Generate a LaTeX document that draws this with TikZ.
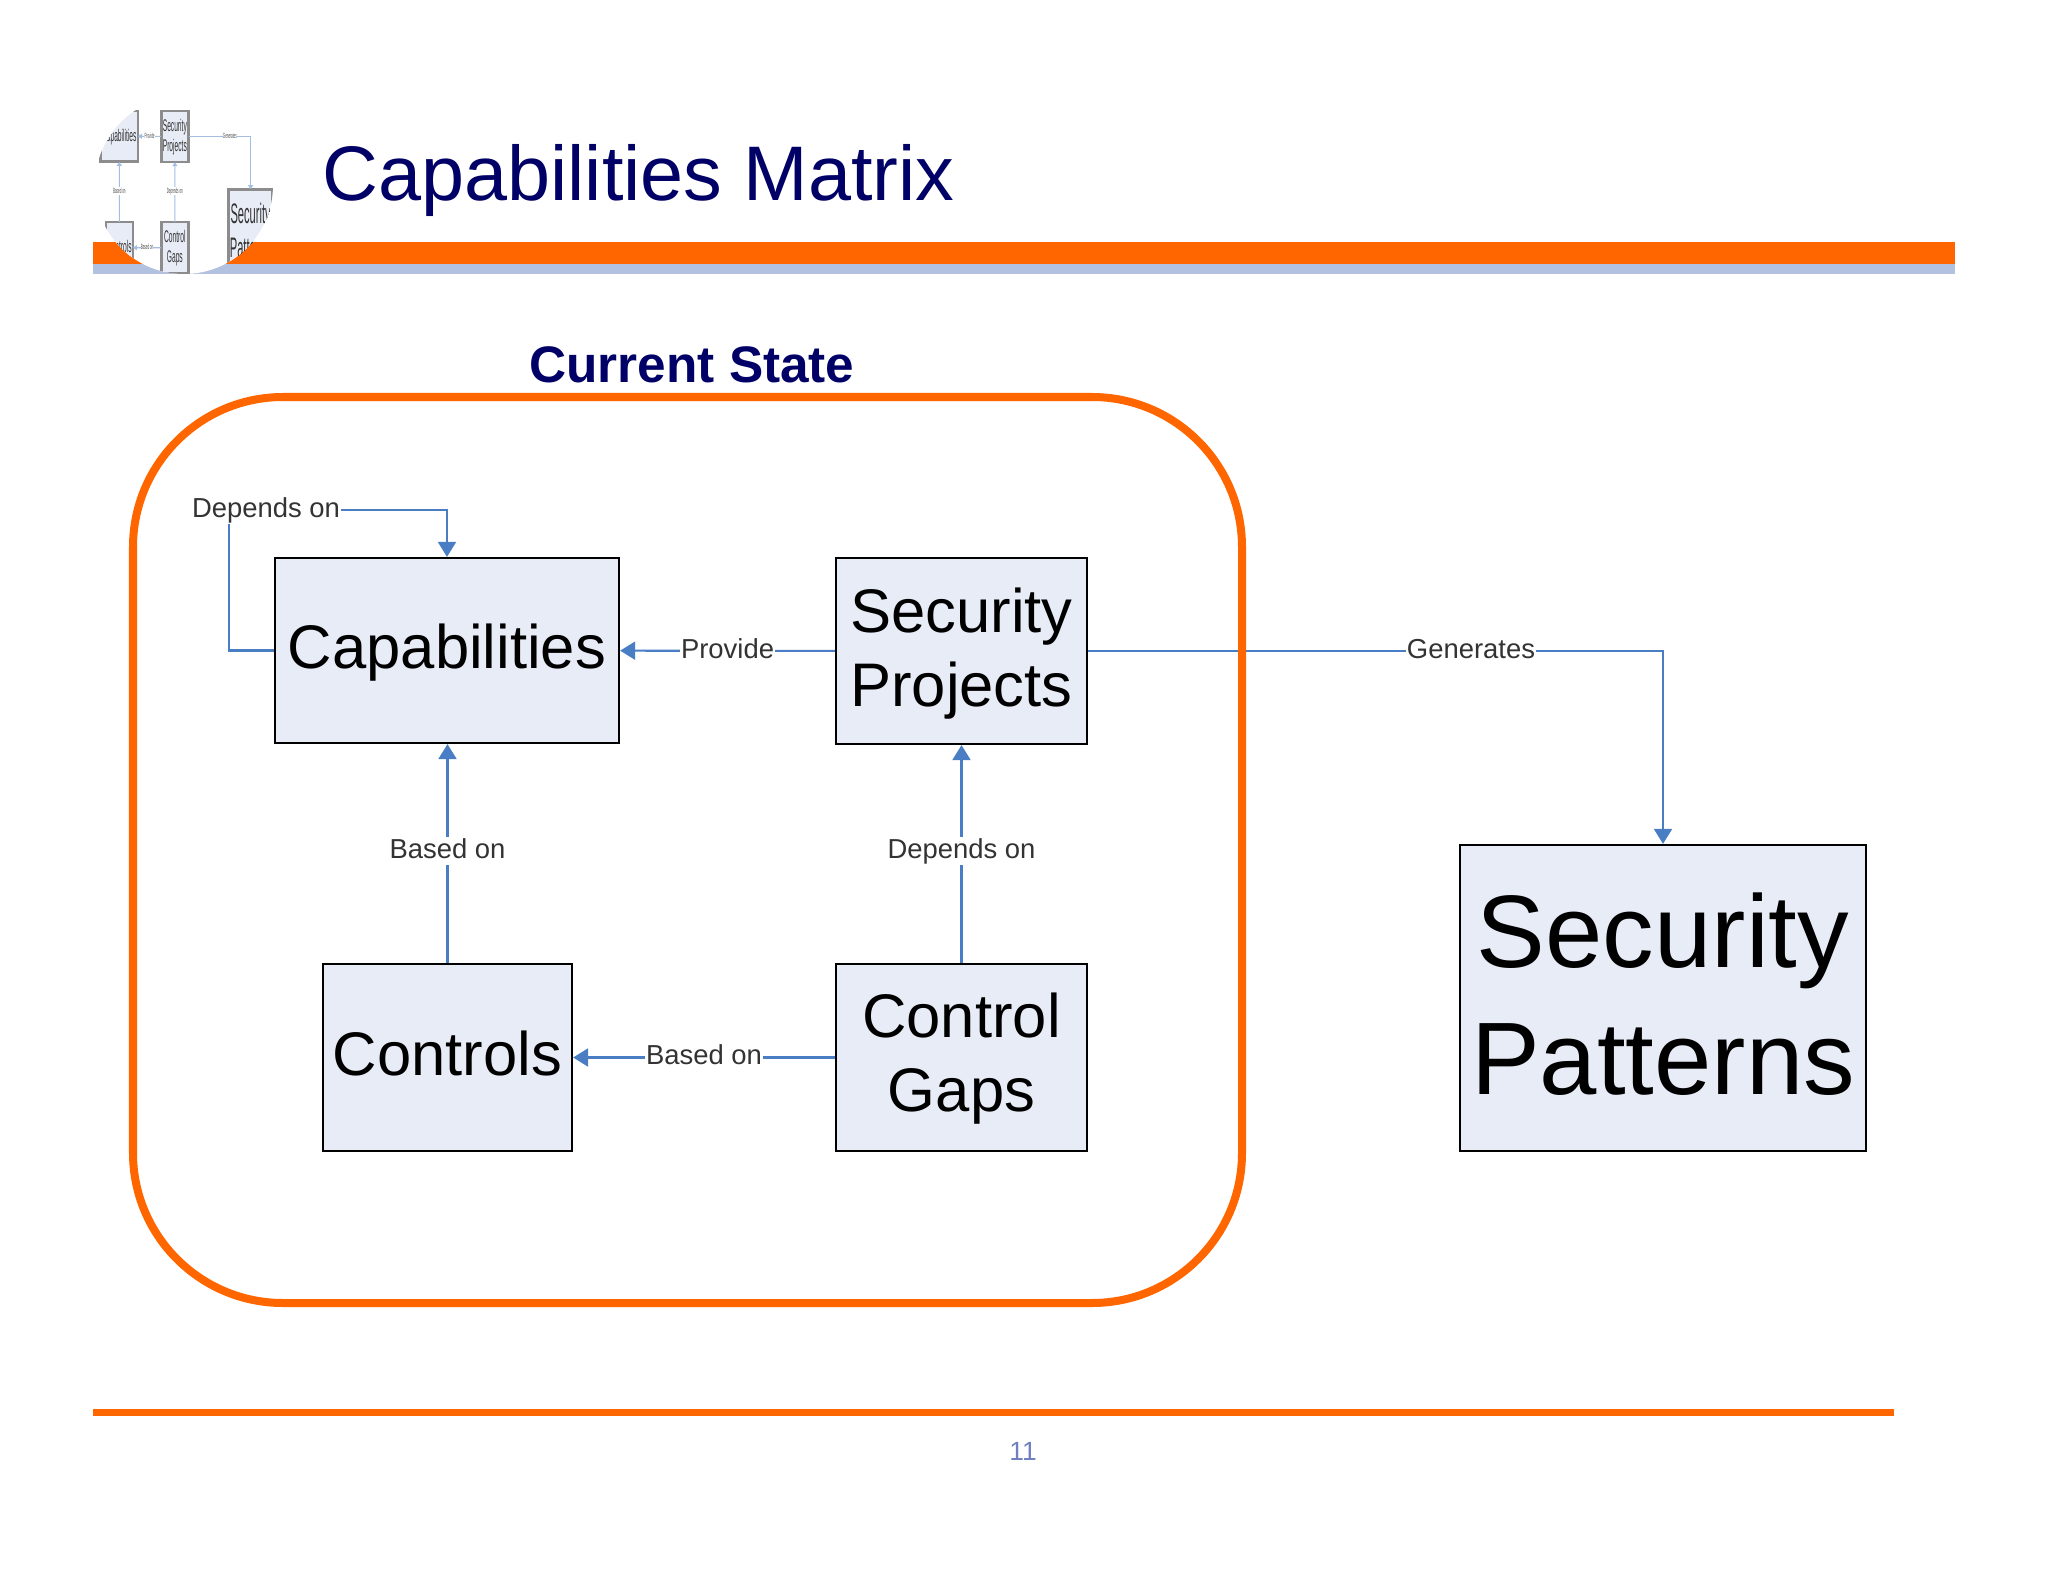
\documentclass[tikz,border=0pt]{standalone}
\usepackage{fontspec}
\setmainfont{Liberation Sans}
\usepackage{xcolor}
\usetikzlibrary{arrows.meta}
\definecolor{barorange}{HTML}{FF6600}
\definecolor{barblue}{HTML}{B3C1E1}
\definecolor{navy}{HTML}{000066}
\definecolor{boxbg}{HTML}{E8ECF6}
\definecolor{linkblue}{HTML}{4A7EC4}
\definecolor{pagenum}{HTML}{6F7FC0}
% the five boxes and their links, used for the logo and for the slide
\newcommand{\capsdiagram}{
  \node[boxnode,minimum width=3.44cm,minimum height=1.85cm] (cap) at (447,650.5) {Capabilities};
  \node[boxnode,minimum width=2.51cm,minimum height=1.86cm] (proj) at (961.5,651) {Security\\Projects};
  \node[boxnode,minimum width=2.49cm,minimum height=1.87cm] (ctrl) at (447.5,1057.5) {Controls};
  \node[boxnode,minimum width=2.51cm,minimum height=1.87cm,text depth=3pt] (gaps) at (961.5,1057.5) {Control\\Gaps};
  \node[boxnode,minimum width=4.06cm,minimum height=3.06cm,font=\bigfont,text depth=2.6pt] (pat) at (1663,998) {Security\\Patterns};
  \coordinate (loop) at (229,510);
  \draw[link] (cap.west) -| (loop) -- node[linklabel,pos=0.17] {Depends on} (loop -| cap.north) -- (cap.north);
  \draw[link] (proj) -- node[linklabel,pos=0.5] {Provide} (cap);
  \draw[link] (ctrl) -- node[linklabel,pos=0.512] {Based on} (ctrl |- cap.south);
  \draw[link] (gaps) -- node[linklabel,pos=0.512] {Depends on} (proj);
  \draw[link] (gaps) -- node[linklabel,pos=0.5] {Based on} (ctrl);
  \draw[link] (proj.east) -| node[linklabel,pos=0.333] {Generates} (pat.north);
}
\newcommand{\bigfont}{\fontsize{29.3}{36}\selectfont}
\begin{document}
\begin{tikzpicture}[x=0.01cm,y=-0.01cm,
  boxnode/.style={draw=black,fill=boxbg,line width=0.6pt,align=center,inner sep=0pt,text depth=2.2pt,font=\fontsize{17.5}{21}\selectfont},
  link/.style={draw=linkblue,line width=0.6pt,-{Triangle[length=1.5mm,width=1.8mm]}},
  linklabel/.style={fill=white,inner sep=0.3pt,text height=5.8pt,text depth=1.6pt,text=black!80,font=\fontsize{7.8}{9}\selectfont}]
\useasboundingbox (0,0) rectangle (2048,1582);
% header bars
\fill[barorange] (93,242) rectangle (1955,264);
\fill[barblue] (93,264) rectangle (1955,274);
% logo
\fill[white] (184,185) circle (89);
\begin{scope}
\clip (184,185) circle (89);
\begin{scope}[shift={(71,-42)},xscale=0.108,yscale=0.274,transform shape,
  boxnode/.append style={draw=black!45,line width=0.7pt,text=black!80},
  link/.append style={draw=linkblue!50,line width=0.3pt,-{Triangle[length=0.4mm,width=0.5mm]}},
  linklabel/.append style={text=black!70}]
\capsdiagram
\end{scope}
\end{scope}
\node[anchor=west,inner sep=0pt,text=navy,font=\fontsize{22}{26}\selectfont] (title) at (322,180.5) {Capabilities Matrix};
\node[text=navy,inner sep=0pt,font=\fontsize{14.6}{17}\selectfont\bfseries] (state) at (692,365) {Current State};
\capsdiagram
% current state frame
\draw[barorange,line width=8pt*0.2845,rounded corners=1.5cm] (133,397) rectangle (1242,1303);
% footer
\fill[barorange] (93,1409) rectangle (1894,1416);
\node[text=pagenum,inner sep=0pt,font=\fontsize{7.5}{9}\selectfont] (num) at (1023,1451) {11};
\end{tikzpicture}
\end{document}
